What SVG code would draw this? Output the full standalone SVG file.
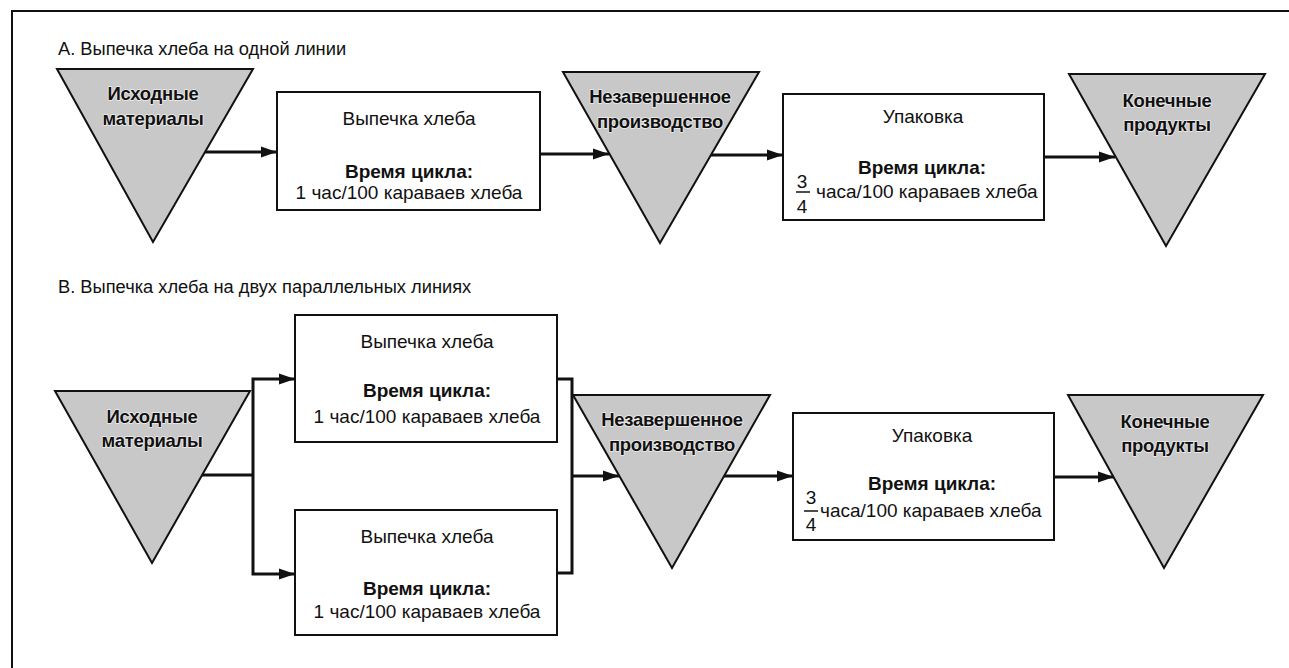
<svg xmlns="http://www.w3.org/2000/svg" width="1289" height="668" viewBox="0 0 1289 668">
<style>
text{font-family:"Liberation Sans",Arial,sans-serif;fill:#111}
.title{font-size:18.3px}
.box{fill:#fff;stroke:#111;stroke-width:2}
.tri{fill:#c8c8c8;stroke:#111;stroke-width:2;stroke-linejoin:miter}
.tt{font-size:18.5px;font-weight:bold;text-anchor:middle;letter-spacing:-0.3px;stroke:#ededed;stroke-width:1.6px;paint-order:stroke;stroke-linejoin:round}
.bt{font-size:19px;text-anchor:middle}
.bb{font-size:19px;font-weight:bold;text-anchor:middle}
.fr{font-size:19px}
.frl{stroke:#111;stroke-width:1.5}
.con{fill:none;stroke:#111;stroke-width:3}
.frame{fill:none;stroke:#111;stroke-width:2}
</style>
<defs>
<marker id="ah" markerUnits="userSpaceOnUse" markerWidth="17" markerHeight="12" refX="16" refY="6" orient="auto">
<path d="M0,0.5 L16,6 L0,11.5 z" fill="#111"/>
</marker>
</defs>
<path class="frame" d="M12,668 V11 H1289"/>
<text class="title" x="58" y="55">А. Выпечка хлеба на одной линии</text>
<text class="title" x="58" y="293">В. Выпечка хлеба на двух параллельных линиях</text>

<g id="a-raw">
<polygon class="tri" points="57,69 253,69 153,242"/>
<text class="tt" x="153" y="100">Исходные</text>
<text class="tt" x="153" y="125">материалы</text>
</g>
<g id="a-bake">
<rect class="box" x="277" y="92" width="263" height="118"/>
<text class="bt" x="409" y="125">Выпечка хлеба</text>
<text class="bb" x="409" y="178">Время цикла:</text>
<text class="bt" x="409" y="199">1 час/100 караваев хлеба</text>
</g>
<g id="a-wip">
<polygon class="tri" points="563,72 759,72 660,243"/>
<text class="tt" x="660" y="103">Незавершенное</text>
<text class="tt" x="660" y="128">производство</text>
</g>
<g id="a-pack">
<rect class="box" x="783" y="94" width="261" height="126"/>
<text class="bt" x="923" y="123">Упаковка</text>
<text class="bb" x="922" y="174">Время цикла:</text>
<text class="fr" x="802" y="188" text-anchor="middle">3</text>
<line class="frl" x1="796" y1="192" x2="810" y2="192"/>
<text class="fr" x="802" y="213" text-anchor="middle">4</text>
<text class="fr" x="816" y="198">часа/100 караваев хлеба</text>
</g>
<g id="a-fin">
<polygon class="tri" points="1069,74 1265,74 1166,246"/>
<text class="tt" x="1167" y="107">Конечные</text>
<text class="tt" x="1167" y="131">продукты</text>
</g>

<g id="b-raw">
<polygon class="tri" points="55,391 250,391 152,563"/>
<text class="tt" x="152" y="423">Исходные</text>
<text class="tt" x="152" y="447">материалы</text>
</g>
<g id="b-bake1">
<rect class="box" x="295" y="315" width="262" height="127"/>
<text class="bt" x="427" y="348">Выпечка хлеба</text>
<text class="bb" x="427" y="397">Время цикла:</text>
<text class="bt" x="427" y="423">1 час/100 караваев хлеба</text>
</g>
<g id="b-bake2">
<rect class="box" x="295" y="510" width="262" height="125"/>
<text class="bt" x="427" y="543">Выпечка хлеба</text>
<text class="bb" x="427" y="595">Время цикла:</text>
<text class="bt" x="427" y="618">1 час/100 караваев хлеба</text>
</g>
<g id="b-wip">
<polygon class="tri" points="573,395 770,395 672,568"/>
<text class="tt" x="672" y="426">Незавершенное</text>
<text class="tt" x="672" y="451">производство</text>
</g>
<g id="b-pack">
<rect class="box" x="793" y="413" width="261" height="127"/>
<text class="bt" x="932" y="442">Упаковка</text>
<text class="bb" x="932" y="490">Время цикла:</text>
<text class="fr" x="811" y="504" text-anchor="middle">3</text>
<line class="frl" x1="804" y1="511" x2="818" y2="511"/>
<text class="fr" x="811" y="531" text-anchor="middle">4</text>
<text class="fr" x="820" y="517">часа/100 караваев хлеба</text>
</g>
<g id="b-fin">
<polygon class="tri" points="1068,395 1263,395 1164,568"/>
<text class="tt" x="1165" y="428">Конечные</text>
<text class="tt" x="1165" y="452">продукты</text>
</g>

<g id="connectors">
<path class="con" d="M205,152 H277" marker-end="url(#ah)"/>
<path class="con" d="M540,154 H609" marker-end="url(#ah)"/>
<path class="con" d="M711,155 H783" marker-end="url(#ah)"/>
<path class="con" d="M1044,157 H1115" marker-end="url(#ah)"/>
<path class="con" d="M202,475 H253"/>
<path class="con" d="M253,475 V379 H295" marker-end="url(#ah)"/>
<path class="con" d="M253,475 V574 H295" marker-end="url(#ah)"/>
<path class="con" d="M557,379 H572 V573 H557"/>
<path class="con" d="M572,476 H619" marker-end="url(#ah)"/>
<path class="con" d="M724,476 H793" marker-end="url(#ah)"/>
<path class="con" d="M1054,477 H1114" marker-end="url(#ah)"/>
</g>
</svg>
